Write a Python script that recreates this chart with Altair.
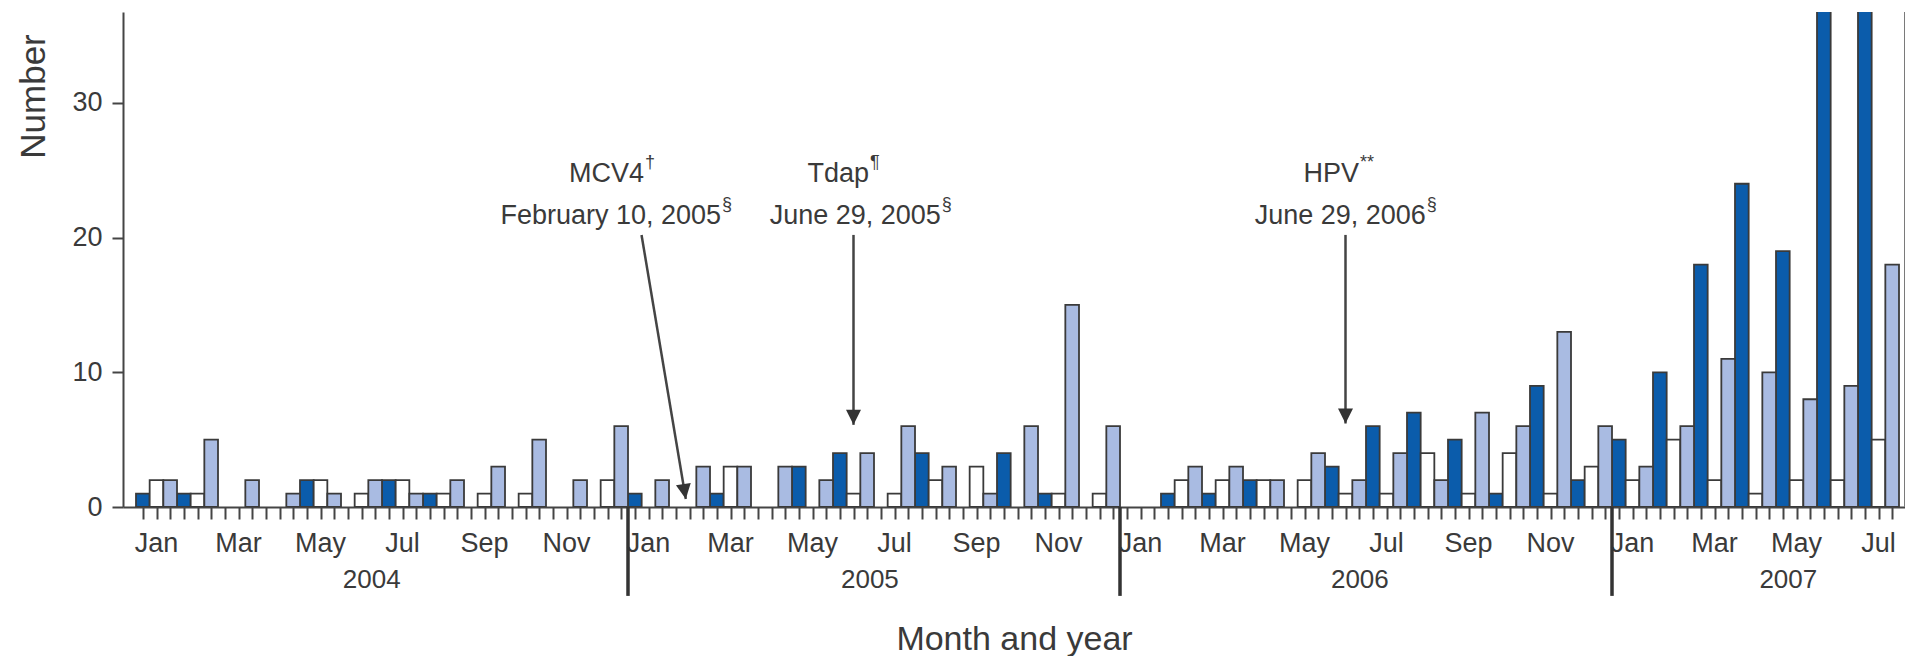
import altair as alt
import pandas as pd

# ---------------- data ----------------
month_names = ["Jan", "Feb", "Mar", "Apr", "May", "Jun",
               "Jul", "Aug", "Sep", "Oct", "Nov", "Dec"]
years = [2004, 2005, 2006, 2007]
n_months = 43  # Jan 2004 .. Jul 2007

series_names = ["Series 1", "Series 2", "Series 3"]

# dark blue bars
series1 = [1, 1, 0, 0, 2, 0, 2, 1, 0, 0, 0, 0,
           1, 0, 1, 0, 3, 4, 0, 4, 0, 4, 1, 0,
           0, 1, 1, 2, 0, 3, 6, 7, 5, 1, 9, 2,
           5, 10, 18, 24, 19, 41, 41]
# white bars
series2 = [2, 1, 0, 0, 2, 1, 2, 1, 1, 1, 0, 2,
           0, 0, 3, 0, 0, 1, 1, 2, 3, 0, 1, 1,
           0, 2, 2, 2, 2, 1, 1, 4, 1, 4, 1, 3,
           2, 5, 2, 1, 2, 2, 5]
# light blue bars
series3 = [2, 5, 2, 1, 1, 2, 1, 2, 3, 5, 2, 6,
           2, 3, 3, 3, 2, 4, 6, 3, 1, 6, 15, 6,
           0, 3, 3, 2, 4, 2, 4, 2, 7, 6, 13, 6,
           3, 6, 11, 10, 8, 9, 18]

y_ticks = [0, 10, 20, 30]

ann_name = ["MCV4", "Tdap", "HPV"]
ann_name_sup = ["\u2020", "\u00b6", "**"]
ann_date = ["February 10, 2005", "June 29, 2005", "June 29, 2006"]
ann_date_sup = ["\u00a7", "\u00a7", "\u00a7"]

# ---------------- layout / style constants ----------------
FONT = "Liberation Sans, Arial, sans-serif"
TEXT = "#3a3a3a"
AXIS = "#454545"
COLORS = ["#0b5cab", "#ffffff", "#a9bbe2"]

PAD_LEFT, PAD_TOP, PAD_RIGHT, PAD_BOTTOM = 115, 4, 0, 149
W, H = 1782, 495
MONTH_PX = 41.0
XMIN = -13.0 / MONTH_PX
XMAX = XMIN + W / MONTH_PX
YMAX = 36.75

xs = alt.Scale(domain=[XMIN, XMAX], nice=False, zero=False)
ys = alt.Scale(domain=[0, YMAX], nice=False, zero=False)

# annotation / label positions (month units / value units)
NAME_Y, DATE_Y = 24.7, 21.6
ann_name_x = [12.39, 17.88, 29.83]
ann_date_x = [14.27, 19.63, 31.46]
arrow_x0 = [12.33, 17.5, 29.5]
arrow_y0 = [20.2, 20.2, 20.2]
arrow_x1 = [13.41, 17.5, 29.5]
arrow_y1 = [0.6, 6.1, 6.2]
arrow_ang = [350.5, 0, 0]
YEAR_LABEL_POS = [5.75, 17.9, 29.85, 40.3]
MONTH_LABEL_Y = -2.75
YEAR_LABEL_Y = -5.42
DIV_BOTTOM = -6.6

# ---------------- tables ----------------
rows = []
for s, vals in enumerate([series1, series2, series3]):
    for m, v in enumerate(vals):
        if v > 0:
            rows.append({"series": series_names[s], "month": m,
                         "x0": m + s / 3.0, "x1": m + (s + 1) / 3.0, "v": v, "base": 0})
bars_df = pd.DataFrame(rows)

tick_values = [m + (s + 0.5) / 3.0 for m in range(n_months) for s in range(3)]

month_lab_df = pd.DataFrame({
    "label": [month_names[m % 12] for m in range(n_months) if m % 2 == 0],
    "xc": [m + 0.5 for m in range(n_months) if m % 2 == 0],
})
month_lab_df["yc"] = MONTH_LABEL_Y

year_lab_df = pd.DataFrame({"label": [str(y) for y in years], "xc": YEAR_LABEL_POS})
year_lab_df["yc"] = YEAR_LABEL_Y

ann_df = pd.DataFrame({
    "name": ann_name, "name_sup": ann_name_sup, "date": ann_date, "date_sup": ann_date_sup,
    "name_x": ann_name_x, "date_x": ann_date_x,
    "name_y": [NAME_Y] * 3, "date_y": [DATE_Y] * 3,
    "x0": arrow_x0, "y0": arrow_y0, "x1": arrow_x1, "y1": arrow_y1, "ang": arrow_ang,
})

div_df = pd.DataFrame({"xb": [12 * k for k in range(1, len(years))]})
div_df["y0"] = 0
div_df["y1"] = DIV_BOTTOM

# ---------------- layers ----------------
bars = alt.Chart(bars_df).mark_rect(stroke="#3a3a3a", strokeWidth=1.8, clip=True).encode(
    x=alt.X("x0:Q", scale=xs, axis=alt.Axis(
        values=tick_values, labels=False, tickSize=12, tickWidth=2, tickColor=AXIS,
        domainColor=AXIS, domainWidth=2, grid=False, orient="bottom",
        title="Month and year", titleFontSize=34, titleFontWeight="normal",
        titleColor=TEXT, titleFont=FONT, titleY=132, titleBaseline="middle")),
    x2="x1:Q",
    y=alt.Y("v:Q", scale=ys, axis=alt.Axis(
        values=y_ticks, tickSize=11, tickWidth=2, tickColor=AXIS,
        domainColor=AXIS, domainWidth=2, grid=False, orient="left",
        labelFontSize=27, labelColor=TEXT, labelPadding=10, labelFont=FONT,
        title="Number", titleFontSize=35, titleFontWeight="normal", titleColor=TEXT,
        titleFont=FONT, titleX=-90, titleY=84, titleAngle=270,
        titleAlign="center", titleBaseline="middle")),
    y2="base:Q",
    color=alt.Color("series:N", scale=alt.Scale(domain=series_names, range=COLORS), legend=None),
)

month_labels = alt.Chart(month_lab_df).mark_text(
    align="center", baseline="middle", fontSize=27, font=FONT, color=TEXT
).encode(x=alt.X("xc:Q", scale=xs, axis=None), y=alt.Y("yc:Q", scale=ys, axis=None),
         text="label:N")

year_labels = alt.Chart(year_lab_df).mark_text(
    align="center", baseline="middle", fontSize=26, font=FONT, color=TEXT
).encode(x=alt.X("xc:Q", scale=xs, axis=None), y=alt.Y("yc:Q", scale=ys, axis=None),
         text="label:N")

dividers = alt.Chart(div_df).mark_rule(strokeWidth=3.5, color="#333333").encode(
    x=alt.X("xb:Q", scale=xs, axis=None),
    y=alt.Y("y0:Q", scale=ys, axis=None),
    y2="y1:Q",
)

border = alt.Chart(pd.DataFrame({"a": [0]})).mark_rule(strokeWidth=2, color="#7a7a7a").encode(
    x=alt.value(W), y=alt.value(0), y2=alt.value(H))

arrows = alt.Chart(ann_df).mark_rule(strokeWidth=2.5, color="#444444").encode(
    x=alt.X("x0:Q", scale=xs, axis=None), x2="x1:Q",
    y=alt.Y("y0:Q", scale=ys, axis=None), y2="y1:Q",
)

heads = alt.Chart(ann_df).mark_point(
    shape="M0,0L-0.5,-1L0.5,-1Z", filled=True, size=900, color="#333333", opacity=1
).encode(
    x=alt.X("x1:Q", scale=xs, axis=None),
    y=alt.Y("y1:Q", scale=ys, axis=None),
    angle=alt.Angle("ang:Q", scale=None),
)

name_text = alt.Chart(ann_df).mark_text(
    align="right", baseline="middle", fontSize=27, font=FONT, color=TEXT
).encode(x=alt.X("name_x:Q", scale=xs, axis=None), y=alt.Y("name_y:Q", scale=ys, axis=None),
         text="name:N")
name_sup = alt.Chart(ann_df).mark_text(
    align="left", baseline="middle", fontSize=18, font=FONT, color=TEXT, dx=1, dy=-11
).encode(x=alt.X("name_x:Q", scale=xs, axis=None), y=alt.Y("name_y:Q", scale=ys, axis=None),
         text="name_sup:N")
date_text = alt.Chart(ann_df).mark_text(
    align="right", baseline="middle", fontSize=27, font=FONT, color=TEXT
).encode(x=alt.X("date_x:Q", scale=xs, axis=None), y=alt.Y("date_y:Q", scale=ys, axis=None),
         text="date:N")
date_sup = alt.Chart(ann_df).mark_text(
    align="left", baseline="middle", fontSize=18, font=FONT, color=TEXT, dx=1, dy=-11
).encode(x=alt.X("date_x:Q", scale=xs, axis=None), y=alt.Y("date_y:Q", scale=ys, axis=None),
         text="date_sup:N")

chart = alt.layer(
    bars, month_labels, year_labels, dividers, border,
    arrows, heads, name_text, name_sup, date_text, date_sup
).resolve_axis(x="independent", y="independent").properties(
    width=W, height=H,
    autosize=alt.AutoSizeParams(type="none"),
    padding={"left": PAD_LEFT, "top": PAD_TOP, "right": PAD_RIGHT, "bottom": PAD_BOTTOM},
    background="white",
).configure_view(stroke=None).configure_axis(labelFont=FONT, titleFont=FONT)

chart.save("out.html", embed_options={"renderer": "svg", "actions": False})
